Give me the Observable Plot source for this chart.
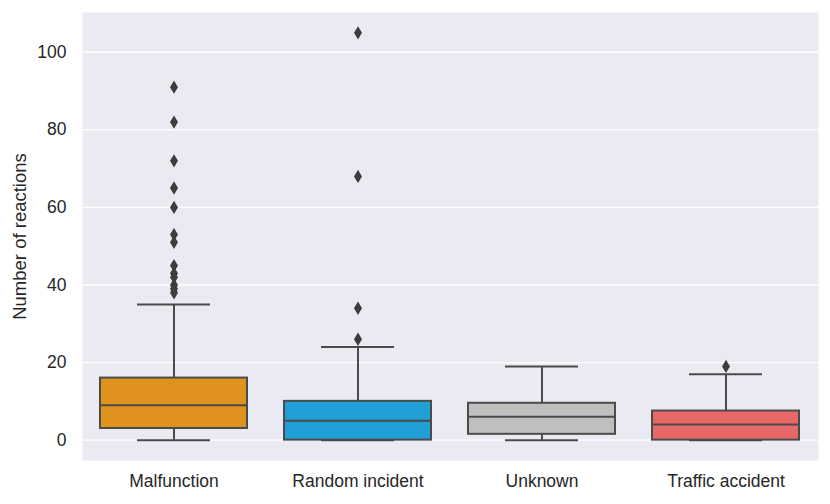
<!DOCTYPE html>
<html>
<head>
<meta charset="utf-8">
<script src="https://cdn.jsdelivr.net/npm/d3@7"></script>
<script src="https://cdn.jsdelivr.net/npm/@observablehq/plot@0.6"></script>
<style>
  html, body { margin: 0; padding: 0; background: #ffffff; }
  #chart { width: 830px; height: 504px; }
</style>
</head>
<body>
<div id="chart"></div>
<script>
// ---- Data ----
const categories = ["Malfunction", "Random incident", "Unknown", "Traffic accident"];
const q1 = [3, 0, 1.5, 0];
const medians = [9, 5, 6, 4];
const q3 = [16, 10, 9.5, 7.5];
const whiskerLow = [0, 0, 0, 0];
const whiskerHigh = [35, 24, 19, 17];
const outliersMalfunction = [91, 82, 72, 65, 60, 53, 51, 45, 43, 42, 40, 39, 38];
const outliersRandom = [105, 68, 34, 26];
const outliersUnknown = [];
const outliersTraffic = [19];
const boxColors = ["#e0921f", "#21a0d8", "#bfbfbf", "#e86868"];
const yTicks = [0, 20, 40, 60, 80, 100];
const yLabel = "Number of reactions";

// ---- Build tables ----
const stats = categories.map((c, i) => ({
  cat: c, q1: q1[i], med: medians[i], q3: q3[i], lo: whiskerLow[i], hi: whiskerHigh[i], color: boxColors[i]
}));
const outlierLists = [outliersMalfunction, outliersRandom, outliersUnknown, outliersTraffic];
const outliers = outlierLists.flatMap((arr, i) => arr.map(v => ({cat: categories[i], v})));

// thin diamond symbol (seaborn "d" marker)
const thinDiamond = {
  draw(context, size) {
    const h = Math.sqrt(size) * 1.45;
    const w = h * 0.6;
    context.moveTo(0, -h / 2);
    context.lineTo(w / 2, 0);
    context.lineTo(0, h / 2);
    context.lineTo(-w / 2, 0);
    context.closePath();
  }
};

const lineColor = "#4b4b4b";
const capInset = 37;

const chart = Plot.plot({
  width: 830,
  height: 504,
  marginLeft: 82,
  marginRight: 12,
  marginTop: 12,
  marginBottom: 44,
  style: {fontFamily: "'Liberation Sans', Arial, sans-serif", fontSize: "17.5px", color: "#262626", background: "#ffffff"},
  x: {domain: categories, paddingInner: 0.2, paddingOuter: 0.1, label: null},
  y: {domain: [-5.25, 110.25], label: null},
  marks: [
    Plot.frame({fill: "#eaeaf2", stroke: null}),
    Plot.gridY(yTicks, {stroke: "#ffffff", strokeOpacity: 1, strokeWidth: 1.3}),
    // whiskers
    Plot.ruleX(stats, {x: "cat", y1: "q3", y2: "hi", stroke: lineColor, strokeWidth: 2}),
    Plot.ruleX(stats, {x: "cat", y1: "lo", y2: "q1", stroke: lineColor, strokeWidth: 2}),
    // caps
    Plot.tickY(stats, {x: "cat", y: "hi", stroke: lineColor, strokeWidth: 2, insetLeft: capInset, insetRight: capInset}),
    Plot.tickY(stats, {x: "cat", y: "lo", stroke: lineColor, strokeWidth: 2, insetLeft: capInset, insetRight: capInset}),
    // boxes
    Plot.barY(stats, {x: "cat", y1: "q1", y2: "q3", fill: d => d.color, stroke: lineColor, strokeWidth: 2}),
    // medians
    Plot.tickY(stats, {x: "cat", y: "med", stroke: lineColor, strokeWidth: 2}),
    // outliers
    Plot.dot(outliers, {x: "cat", y: "v", symbol: thinDiamond, r: 5.2, fill: "#3d3d3d", stroke: null}),
    Plot.axisY(yTicks, {tickSize: 0, tickPadding: 16, fontSize: 17.5, label: null}),
    Plot.axisX({tickSize: 0, tickPadding: 14, fontSize: 17.5, label: null}),
    Plot.text([yLabel], {frameAnchor: "left", textAnchor: "middle", text: d => d, rotate: -90, dx: -62, fontSize: 18.5, fill: "#262626"})
  ]
});
document.getElementById("chart").appendChild(chart);
</script>
</body>
</html>
